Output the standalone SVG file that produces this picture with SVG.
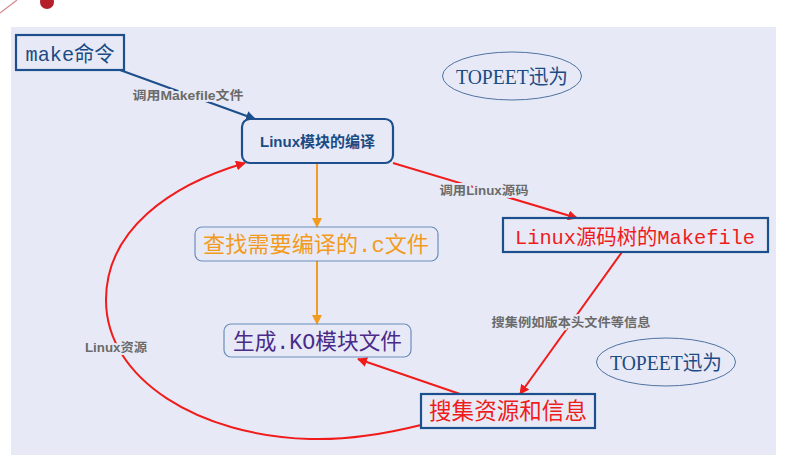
<svg xmlns="http://www.w3.org/2000/svg" width="791" height="467" viewBox="0 0 791 467">
<style>
.serif{font-family:"Liberation Mono","Noto Sans CJK SC",monospace;}
.tp{font-family:"Liberation Serif","Noto Sans CJK SC",serif;fill:#1b4b85;font-size:20px;}
.lbl{font-family:"Liberation Sans","Noto Sans CJK SC",sans-serif;font-weight:bold;font-size:12.5px;fill:#6b6b6b;stroke:#e7eaf6;stroke-width:4;paint-order:stroke;stroke-linejoin:round;}
.blue{fill:none;stroke:#1d4f8c;stroke-width:2.2;}
.soft{fill:none;stroke:#6a8cbb;stroke-width:1.2;}
.red{fill:none;stroke:#f01c1c;stroke-width:2;}
.org{fill:none;stroke:#f39a20;stroke-width:2;}
</style>
<defs>
<marker id="ab" viewBox="0 0 10 10" refX="9" refY="5" markerWidth="10" markerHeight="10" markerUnits="userSpaceOnUse" orient="auto"><path d="M0,0 L10,5 L0,10 z" fill="#1d4f8c"/></marker>
<marker id="ar" viewBox="0 0 10 10" refX="9" refY="5" markerWidth="10" markerHeight="10" markerUnits="userSpaceOnUse" orient="auto"><path d="M0,0 L10,5 L0,10 z" fill="#f01c1c"/></marker>
<marker id="ao" viewBox="0 0 10 10" refX="9" refY="5" markerWidth="10" markerHeight="10" markerUnits="userSpaceOnUse" orient="auto"><path d="M0,0 L10,5 L0,10 z" fill="#f39a20"/></marker>
</defs>
<rect width="791" height="467" fill="#ffffff"/>
<g id="logo">
<line x1="0" y1="13" x2="17" y2="0" stroke="#d98a8a" stroke-width="1.2"/>
<circle cx="47" cy="2" r="7" fill="#b3202a"/>
</g>
<rect x="11" y="27" width="765" height="428" fill="#e7eaf6"/>

<g id="connectors">
<line class="blue" x1="120" y1="70" x2="255" y2="119" marker-end="url(#ab)"/>
<line class="red" x1="393" y1="163" x2="577" y2="218" marker-end="url(#ar)"/>
<line class="org" x1="317" y1="163" x2="317" y2="227" marker-end="url(#ao)"/>
<line class="org" x1="317" y1="261" x2="317" y2="324" marker-end="url(#ao)"/>
<line class="red" x1="622" y1="252" x2="520" y2="394" marker-end="url(#ar)"/>
<line class="red" x1="460" y1="394" x2="358" y2="359" marker-end="url(#ar)"/>
<path class="red" d="M421,425 C385,434 345,440 310,439 C200,436 106,380 106,300 C106,230 170,185 245,163" marker-end="url(#ar)"/>
<text class="lbl" x="188" y="99.5" text-anchor="middle" textLength="111" lengthAdjust="spacingAndGlyphs">调用Makefile文件</text>
<text class="lbl" x="484" y="195" text-anchor="middle" textLength="89" lengthAdjust="spacingAndGlyphs">调用Linux源码</text>
<text class="lbl" x="571" y="327" text-anchor="middle" textLength="159" lengthAdjust="spacingAndGlyphs">搜集例如版本头文件等信息</text>
<text class="lbl" x="116" y="352" text-anchor="middle" textLength="62" lengthAdjust="spacingAndGlyphs">Linux资源</text>
</g>

<g id="make">
<rect class="blue" x="16" y="35" width="108" height="35"/>
<text class="serif" x="70" y="61" text-anchor="middle" font-size="21" fill="#1b4b85" textLength="89" lengthAdjust="spacingAndGlyphs">make命令</text>
</g>
<g id="compile">
<rect class="blue" x="242" y="119" width="151" height="44" rx="8"/>
<text x="317.5" y="147" text-anchor="middle" font-family="Liberation Sans,Noto Sans CJK SC,sans-serif" font-weight="bold" font-size="15" fill="#1b4b85" textLength="115" lengthAdjust="spacingAndGlyphs">Linux模块的编译</text>
</g>
<g id="topeet1">
<ellipse cx="512" cy="76" rx="69.5" ry="24" fill="none" stroke="#4f72a3" stroke-width="1"/>
<text class="tp" x="512" y="84" text-anchor="middle" textLength="112" lengthAdjust="spacingAndGlyphs">TOPEET迅为</text>
</g>
<g id="makefile">
<rect class="blue" x="503" y="218" width="265" height="34"/>
<text class="serif" x="635" y="244" text-anchor="middle" font-size="21" fill="#f01c1c" textLength="240" lengthAdjust="spacingAndGlyphs">Linux源码树的Makefile</text>
</g>
<g id="find">
<rect class="soft" x="195" y="227" width="243" height="34" rx="7"/>
<text class="serif" x="316" y="252" text-anchor="middle" font-size="22" fill="#f39a20" textLength="226" lengthAdjust="spacingAndGlyphs">查找需要编译的.c文件</text>
</g>
<g id="ko">
<rect class="soft" x="224" y="324" width="187" height="33" rx="7"/>
<text class="serif" x="317.5" y="349" text-anchor="middle" font-size="22" fill="#4a2b8a" textLength="169" lengthAdjust="spacingAndGlyphs">生成.KO模块文件</text>
</g>
<g id="collect">
<rect class="blue" x="421" y="394" width="174" height="34"/>
<text class="serif" x="508" y="419" text-anchor="middle" font-size="23" fill="#f01c1c" textLength="158" lengthAdjust="spacingAndGlyphs">搜集资源和信息</text>
</g>
<g id="topeet2">
<ellipse cx="666" cy="362" rx="69.5" ry="24" fill="none" stroke="#4f72a3" stroke-width="1"/>
<text class="tp" x="666" y="370" text-anchor="middle" textLength="112" lengthAdjust="spacingAndGlyphs">TOPEET迅为</text>
</g>
</svg>
